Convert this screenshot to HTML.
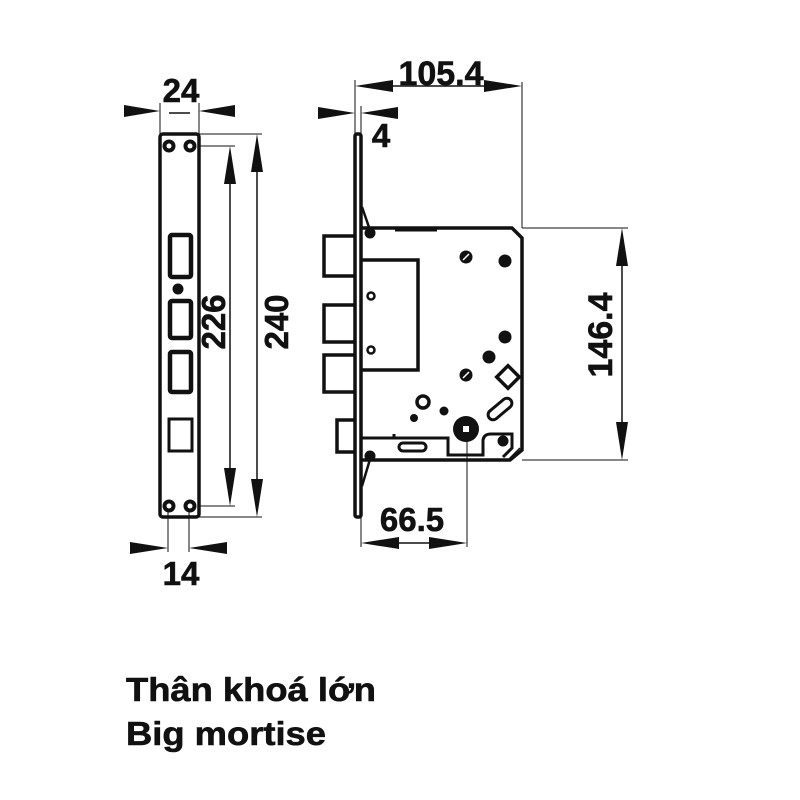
<!DOCTYPE html>
<html><head><meta charset="utf-8"><style>
html,body{margin:0;padding:0;background:#fff;}
svg{display:block;}
text{font-family:"Liberation Sans",sans-serif;font-weight:bold;fill:#111;}
</style></head><body>
<svg width="800" height="800" viewBox="0 0 800 800" xmlns="http://www.w3.org/2000/svg">
<g stroke="#111" fill="none">
<!-- LEFT PLATE -->
<rect x="160" y="134" width="39" height="383" rx="3" stroke-width="3.5"/>
<g fill="#111" stroke="none">
<circle cx="169" cy="146" r="6.5"/><circle cx="190" cy="146" r="6.5"/>
<circle cx="169" cy="506" r="6.5"/><circle cx="190" cy="506" r="6.5"/>
</g>
<g fill="#fff" stroke="none">
<circle cx="169" cy="146" r="2.5"/><circle cx="190" cy="146" r="2.5"/>
<circle cx="169" cy="506" r="2.5"/><circle cx="190" cy="506" r="2.5"/>
</g>
<rect x="170" y="235" width="21" height="42" rx="2" stroke-width="4.5"/>
<circle cx="178" cy="289" r="5.5" fill="#111" stroke="none"/>
<rect x="170" y="301" width="21" height="37" rx="2" stroke-width="4.5"/>
<rect x="170" y="352" width="21" height="40" rx="2" stroke-width="4.5"/>
<rect x="169" y="419" width="23" height="32" stroke-width="3"/>
<!-- dim 24 -->
<line x1="160" y1="103" x2="160" y2="134" stroke-width="1"/>
<line x1="199" y1="103" x2="199" y2="134" stroke-width="1"/>
<line x1="169" y1="113" x2="190" y2="113" stroke-width="1.5"/>
<!-- dim 240/226 -->
<line x1="199" y1="134" x2="262" y2="134" stroke-width="1"/>
<line x1="199" y1="517" x2="262" y2="517" stroke-width="1"/>
<line x1="199" y1="146" x2="235" y2="146" stroke-width="1"/>
<line x1="199" y1="506" x2="235" y2="506" stroke-width="1"/>
<line x1="230" y1="160" x2="230" y2="492" stroke-width="1.5"/>
<line x1="257" y1="150" x2="257" y2="500" stroke-width="1.5"/>
<!-- dim 14 -->
<line x1="168" y1="510" x2="168" y2="552" stroke-width="1"/>
<line x1="189" y1="510" x2="189" y2="552" stroke-width="1"/>

<!-- RIGHT LOCK -->
<rect x="355" y="134" width="6" height="383" rx="2" stroke-width="3.5"/>
<path d="M361 228 H512 L522 238 V450 L510 460 H361" stroke-width="3.5"/>
<path d="M508 460 L520 448" stroke-width="1.5"/>
<line x1="395" y1="229" x2="437" y2="229" stroke-width="5"/>
<path d="M362 207 L371 233" stroke-width="2.5"/>
<circle cx="370" cy="233" r="5.5" fill="#111" stroke="none"/>
<path d="M362 486 L371 456" stroke-width="2.5"/>
<circle cx="370" cy="456" r="5.5" fill="#111" stroke="none"/>
<path d="M355 236 H324 V276 H355" stroke-width="3.5"/>
<path d="M355 305 H324 V342 H355" stroke-width="3.5"/>
<path d="M355 355 H324 V392 H355" stroke-width="3.5"/>
<path d="M355 420 H337 V452 H355" stroke-width="3.5"/>
<path d="M361 260 H418 V370 H361" stroke-width="3.5"/>
<circle cx="371" cy="296" r="3.5" stroke-width="2.5" fill="#fff"/>
<circle cx="371" cy="350" r="3.5" stroke-width="2.5" fill="#fff"/>
<g fill="#111" stroke="none">
<circle cx="466" cy="257" r="6.5"/><circle cx="505" cy="261" r="6.5"/>
<circle cx="505" cy="337" r="6.5"/><circle cx="489" cy="357" r="6.5"/>
<circle cx="466" cy="375" r="6.5"/><circle cx="444" cy="411" r="4.5"/>
<circle cx="414" cy="418" r="4"/><circle cx="466" cy="429" r="13"/>
<circle cx="503" cy="441" r="5.5"/>
</g>
<line x1="463" y1="260" x2="469" y2="254" stroke="#fff" stroke-width="1.5"/>
<line x1="463" y1="378" x2="469" y2="372" stroke="#fff" stroke-width="1.5"/>
<rect x="463" y="426" width="6" height="6" fill="#fff" stroke="none"/>
<circle cx="423" cy="402" r="6" stroke-width="3.5" fill="#fff"/>
<rect x="500" y="369" width="16" height="16" transform="rotate(45 508 377)" stroke-width="3.5"/>
<rect x="486" y="404" width="28" height="10" rx="5" transform="rotate(-40 500 409)" stroke-width="3"/>
<path d="M361 438 H448 V455 H483 V440 Q484 434 491 434 H512 V448 L503 457" stroke-width="3"/>
<line x1="394" y1="434" x2="394" y2="438" stroke-width="3"/>
<rect x="399" y="443" width="27" height="8" rx="4" stroke-width="3"/>
<!-- dim 105.4 / 4 -->
<line x1="355" y1="80" x2="355" y2="134" stroke-width="1"/>
<line x1="361" y1="106" x2="361" y2="134" stroke-width="1"/>
<line x1="522" y1="82" x2="522" y2="228" stroke-width="1"/>
<line x1="390" y1="86" x2="488" y2="86" stroke-width="1.5"/>
<!-- dim 146.4 -->
<line x1="522" y1="228" x2="628" y2="228" stroke-width="1"/>
<line x1="522" y1="460" x2="628" y2="460" stroke-width="1"/>
<line x1="622" y1="260" x2="622" y2="430" stroke-width="1.5"/>
<!-- dim 66.5 -->
<line x1="361" y1="517" x2="361" y2="547" stroke-width="1"/>
<line x1="467" y1="432" x2="467" y2="547" stroke-width="1"/>
<line x1="395" y1="543" x2="433" y2="543" stroke-width="1.5"/>
</g>
<!-- arrowheads -->
<g fill="#111">
<polygon points="160,111 124,105 124,117"/>
<polygon points="199,111 235,105 235,117"/>
<polygon points="230,146 224,184 236,184"/>
<polygon points="230,506 224,468 236,468"/>
<polygon points="257,134 251,172 263,172"/>
<polygon points="257,517 251,479 263,479"/>
<polygon points="168,548 130,542 130,554"/>
<polygon points="189,548 227,542 227,554"/>
<polygon points="355,86 393,80 393,92"/>
<polygon points="522,86 484,80 484,92"/>
<polygon points="355,113 318,107 318,119"/>
<polygon points="361,113 398,107 398,119"/>
<polygon points="622,228 616,266 628,266"/>
<polygon points="622,460 616,422 628,422"/>
<polygon points="361,543 399,537 399,549"/>
<polygon points="467,543 429,537 429,549"/>
</g>
<!-- labels -->
<g style="stroke:#111;stroke-width:0.6">
<text x="181" y="102" font-size="33" text-anchor="middle">24</text>
<text x="181" y="585" font-size="33" text-anchor="middle">14</text>
<text transform="translate(225 322) rotate(-90)" font-size="33" text-anchor="middle">226</text>
<text transform="translate(288 322) rotate(-90)" font-size="33" text-anchor="middle">240</text>
<text x="441" y="85" font-size="34" text-anchor="middle">105.4</text>
<text x="381" y="147" font-size="33" text-anchor="middle">4</text>
<text transform="translate(612 335) rotate(-90)" font-size="34" text-anchor="middle">146.4</text>
<text x="412" y="531" font-size="33" text-anchor="middle">66.5</text>
<text x="126" y="701" font-size="33" textLength="250" lengthAdjust="spacingAndGlyphs" style='font-family:"Liberation Sans","Noto Sans CJK SC",sans-serif'>Thân khoá lớn</text>
<text x="126" y="745" font-size="33" textLength="200" lengthAdjust="spacingAndGlyphs">Big mortise</text>
</g>
</svg>
</body></html>
